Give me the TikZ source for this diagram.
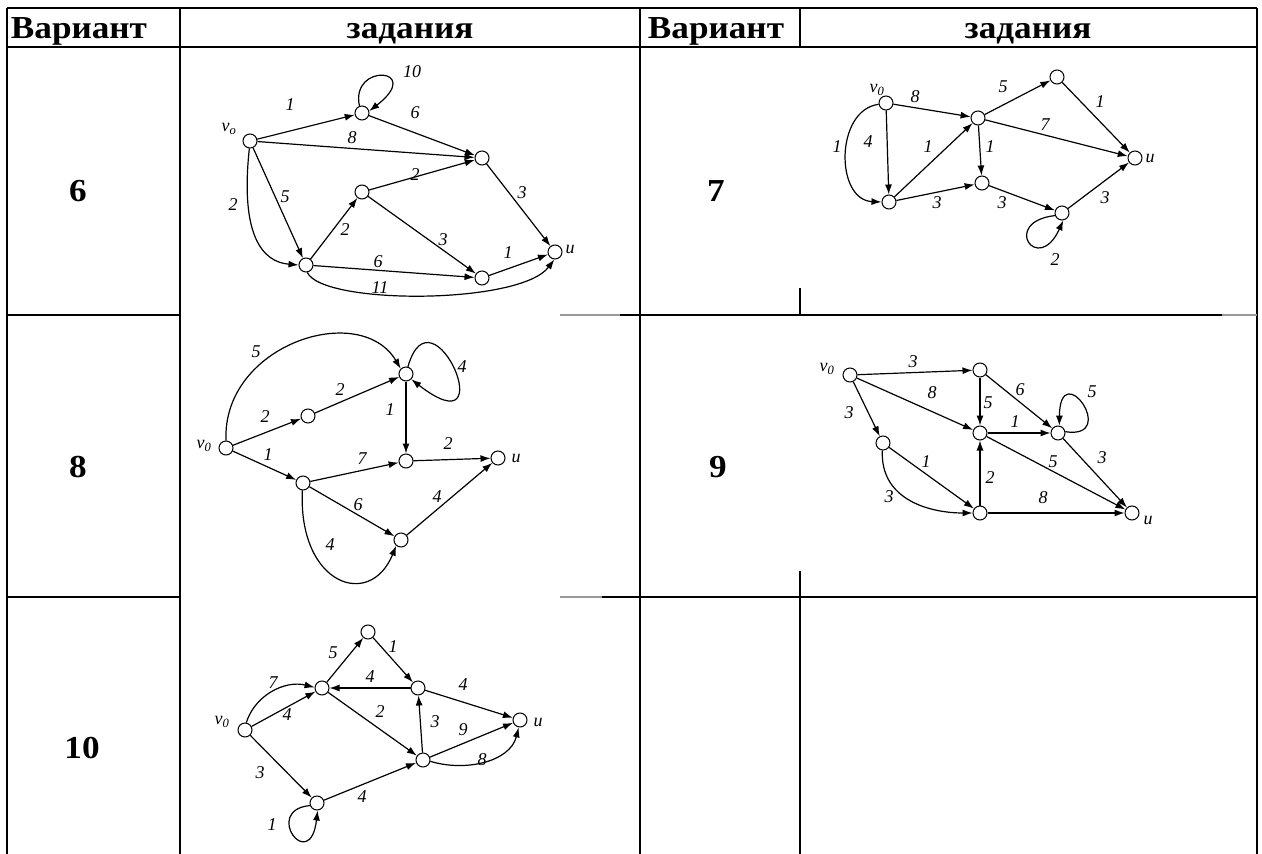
\documentclass[tikz,border=0pt]{standalone}
\usepackage{fontspec}
\setmainfont{Liberation Serif}
\newfontfamily\hdrfont{Liberation Serif}[FakeStretch=1.1]
\usetikzlibrary{arrows.meta}

\begin{document}
\begin{tikzpicture}[x=1pt,y=-1pt,
    grid/.style={line width=1.4pt},
    gridlt/.style={line width=1.4pt,black!40},
    hdr/.style={font=\hdrfont\fontsize{32}{34}\selectfont\bfseries,anchor=base},
    vert/.style={draw,circle,fill=white,minimum size=14pt,inner sep=0pt,line width=1pt},
    arr/.style={line width=1.2pt,-{Latex[length=10pt,width=7pt]}},
    wt/.style={font=\fontsize{18}{20}\selectfont\itshape,inner sep=1pt}]
  \useasboundingbox[fill=white] (0,0) rectangle (1262,854);
  % table
  \draw[grid] (7,8) -- (1257,8);
  \draw[grid] (7,47) -- (1257,47);
  \draw[grid] (7,8) -- (7,854);
  \draw[grid] (1257,8) -- (1257,854);
  \draw[grid] (180,8) -- (180,854);
  \draw[grid] (640,8) -- (640,854);
  \draw[grid] (800,8) -- (800,47);
  \draw[grid] (800,288) -- (800,315);
  \draw[grid] (800,571) -- (800,854);
  \draw[grid] (7,315) -- (180,315);
  \draw[gridlt] (560,315) -- (620,315);
  \draw[grid] (620,315) -- (1222,315);
  \draw[gridlt] (1222,315) -- (1257,315);
  \draw[grid] (7,597) -- (180,597);
  \draw[gridlt] (560,597) -- (602,597);
  \draw[grid] (602,597) -- (1257,597);
  \node[hdr] (h1) at (79,38) {Вариант};
  \node[hdr] (h2) at (410,38) {задания};
  \node[hdr] (h3) at (716,38) {Вариант};
  \node[hdr] (h4) at (1028,38) {задания};
  \node[hdr] (n6) at (78,201) {6};
  \node[hdr] (n7) at (716,201) {7};
  \node[hdr] (n8) at (78,477) {8};
  \node[hdr] (n9) at (718,477) {9};
  \node[hdr] (n10) at (82,758) {10};

  % variant 6
  \node[vert] (g6v) at (250,141) {};
  \node[vert] (g6a) at (362,113) {};
  \node[vert] (g6b) at (482,158) {};
  \node[vert] (g6c) at (362,192) {};
  \node[vert] (g6d) at (306,265) {};
  \node[vert] (g6e) at (482,278) {};
  \node[vert] (g6u) at (555,252) {};
  \node[wt] (g6vl) at (229,129) {v\textsubscript{o}};
  \node[wt] (g6ul) at (570,249) {u};
  \draw[arr] (g6v) -- (g6a);
  \draw[arr] (g6a.110) .. controls (350,62) and (425,68) .. (g6a.15);
  \draw[arr] (g6a) -- (g6b);
  \draw[arr] (g6v) -- (g6b);
  \draw[arr] (g6c) -- (g6b);
  \draw[arr] (g6b) -- (g6u);
  \draw[arr] (g6v) -- (g6d);
  \draw[arr] (g6v.265) .. controls (240,235) and (262,262) .. (g6d.180);
  \draw[arr] (g6d) -- (g6c);
  \draw[arr] (g6c) -- (g6e);
  \draw[arr] (g6d) -- (g6e);
  \draw[arr] (g6e) -- (g6u);
  \draw[arr] (g6d.280) .. controls (322,305) and (520,305) .. (g6u.265);
  \node[wt] (w6a) at (290,105) {1};
  \node[wt] (w6b) at (412,72) {10};
  \node[wt] (w6c) at (415,113) {6};
  \node[wt] (w6d) at (352,138) {8};
  \node[wt] (w6e) at (415,175) {2};
  \node[wt] (w6f) at (522,193) {3};
  \node[wt] (w6g) at (285,197) {5};
  \node[wt] (w6h) at (233,205) {2};
  \node[wt] (w6i) at (345,230) {2};
  \node[wt] (w6j) at (443,240) {3};
  \node[wt] (w6k) at (378,262) {6};
  \node[wt] (w6l) at (508,253) {1};
  \node[wt] (w6m) at (380,288) {11};

  % variant 7
  \node[vert] (g7v) at (886,103) {};
  \node[vert] (g7a) at (889,202) {};
  \node[vert] (g7b) at (978,118) {};
  \node[vert] (g7c) at (1057,77) {};
  \node[vert] (g7d) at (982,183) {};
  \node[vert] (g7e) at (1062,213) {};
  \node[vert] (g7u) at (1135,158) {};
  \node[wt] (g7vl) at (877,90) {v\textsubscript{0}};
  \node[wt] (g7ul) at (1150,158) {u};
  \draw[arr] (g7v) -- (g7b);
  \draw[arr] (g7v) -- (g7a);
  \draw[arr] (g7v.190) .. controls (835,110) and (835,200) .. (g7a.180);
  \draw[arr] (g7a) -- (g7b);
  \draw[arr] (g7a) -- (g7d);
  \draw[arr] (g7b) -- (g7c);
  \draw[arr] (g7b) -- (g7u);
  \draw[arr] (g7b) -- (g7d);
  \draw[arr] (g7c) -- (g7u);
  \draw[arr] (g7d) -- (g7e);
  \draw[arr] (g7e) -- (g7u);
  \draw[arr] (g7e.200) .. controls (1000,222) and (1038,276) .. (g7e.280);
  \node[wt] (w7a) at (915,97) {8};
  \node[wt] (w7b) at (868,142) {4};
  \node[wt] (w7c) at (837,147) {1};
  \node[wt] (w7d) at (928,147) {1};
  \node[wt] (w7e) at (937,203) {3};
  \node[wt] (w7f) at (1003,87) {5};
  \node[wt] (w7g) at (1045,125) {7};
  \node[wt] (w7h) at (990,147) {1};
  \node[wt] (w7i) at (1100,102) {1};
  \node[wt] (w7j) at (1002,203) {3};
  \node[wt] (w7k) at (1055,260) {2};
  \node[wt] (w7l) at (1105,198) {3};

  % variant 8
  \node[vert] (g8v) at (226,448) {};
  \node[vert] (g8a) at (308,416) {};
  \node[vert] (g8b) at (406,374) {};
  \node[vert] (g8c) at (406,461) {};
  \node[vert] (g8d) at (303,483) {};
  \node[vert] (g8e) at (401,540) {};
  \node[vert] (g8u) at (498,458) {};
  \node[wt] (g8vl) at (204,446) {v\textsubscript{0}};
  \node[wt] (g8ul) at (516,458) {u};
  \draw[arr] (g8v.90) .. controls (222,345) and (360,300) .. (g8b.135);
  \draw[arr] (g8v) -- (g8a);
  \draw[arr] (g8a) -- (g8b);
  \draw[arr] (g8b.75) .. controls (432,282) and (505,452) .. (g8b.-45);
  \draw[arr] (g8b) -- (g8c);
  \draw[arr] (g8v) -- (g8d);
  \draw[arr] (g8d) -- (g8c);
  \draw[arr] (g8c) -- (g8u);
  \draw[arr] (g8d) -- (g8e);
  \draw[arr] (g8d.265) .. controls (298,585) and (370,610) .. (g8e.230);
  \draw[arr] (g8e) -- (g8u);
  \node[wt] (w8a) at (256,352) {5};
  \node[wt] (w8b) at (265,417) {2};
  \node[wt] (w8c) at (340,390) {2};
  \node[wt] (w8d) at (462,367) {4};
  \node[wt] (w8e) at (390,410) {1};
  \node[wt] (w8f) at (268,455) {1};
  \node[wt] (w8g) at (362,459) {7};
  \node[wt] (w8h) at (448,444) {2};
  \node[wt] (w8i) at (358,505) {6};
  \node[wt] (w8j) at (330,545) {4};
  \node[wt] (w8k) at (437,497) {4};

  % variant 9
  \node[vert] (g9v) at (850,375) {};
  \node[vert] (g9a) at (980,370) {};
  \node[vert] (g9b) at (883,443) {};
  \node[vert] (g9c) at (980,433) {};
  \node[vert] (g9d) at (1058,433) {};
  \node[vert] (g9e) at (980,513) {};
  \node[vert] (g9u) at (1132,513) {};
  \node[wt] (g9vl) at (827,369) {v\textsubscript{0}};
  \node[wt] (g9ul) at (1148,520) {u};
  \draw[arr] (g9v) -- (g9a);
  \draw[arr] (g9v) -- (g9c);
  \draw[arr] (g9v) -- (g9b);
  \draw[arr] (g9a) -- (g9c);
  \draw[arr] (g9a) -- (g9d);
  \draw[arr] (g9c) -- (g9d);
  \draw[arr] (g9d.10) .. controls (1120,440) and (1060,355) .. (g9d.80);
  \draw[arr] (g9d) -- (g9u);
  \draw[arr] (g9c) -- (g9u);
  \draw[arr] (g9b) -- (g9e);
  \draw[arr] (g9b.265) .. controls (880,500) and (930,513) .. (g9e.180);
  \draw[arr] (g9e) -- (g9c);
  \draw[arr] (g9e) -- (g9u);
  \node[wt] (w9a) at (913,362) {3};
  \node[wt] (w9b) at (932,393) {8};
  \node[wt] (w9c) at (849,413) {3};
  \node[wt] (w9d) at (988,403) {5};
  \node[wt] (w9e) at (1020,390) {6};
  \node[wt] (w9f) at (1015,422) {1};
  \node[wt] (w9g) at (1092,392) {5};
  \node[wt] (w9h) at (1102,458) {3};
  \node[wt] (w9i) at (1053,462) {5};
  \node[wt] (w9j) at (926,462) {1};
  \node[wt] (w9k) at (889,497) {3};
  \node[wt] (w9l) at (990,478) {2};
  \node[wt] (w9m) at (1043,498) {8};

  % variant 10
  \node[vert] (g10v) at (245,730) {};
  \node[vert] (g10a) at (322,688) {};
  \node[vert] (g10b) at (368,632) {};
  \node[vert] (g10c) at (418,688) {};
  \node[vert] (g10d) at (423,760) {};
  \node[vert] (g10e) at (317,803) {};
  \node[vert] (g10u) at (520,720) {};
  \node[wt] (g10vl) at (222,722) {v\textsubscript{0}};
  \node[wt] (g10ul) at (538,722) {u};
  \draw[arr] (g10v.80) .. controls (255,695) and (285,680) .. (g10a.175);
  \draw[arr] (g10v) -- (g10a);
  \draw[arr] (g10a) -- (g10b);
  \draw[arr] (g10b) -- (g10c);
  \draw[arr] (g10c) -- (g10a);
  \draw[arr] (g10a) -- (g10d);
  \draw[arr] (g10c) -- (g10u);
  \draw[arr] (g10d) -- (g10c);
  \draw[arr] (g10d) -- (g10u);
  \draw[arr] (g10d.-10) .. controls (465,772) and (510,762) .. (g10u.260);
  \draw[arr] (g10v) -- (g10e);
  \draw[arr] (g10e) -- (g10d);
  \draw[arr] (g10e.200) .. controls (262,810) and (310,875) .. (g10e.275);
  \node[wt] (w10a) at (273,683) {7};
  \node[wt] (w10b) at (287,715) {4};
  \node[wt] (w10c) at (333,653) {5};
  \node[wt] (w10d) at (393,647) {1};
  \node[wt] (w10e) at (370,677) {4};
  \node[wt] (w10f) at (380,712) {2};
  \node[wt] (w10g) at (463,685) {4};
  \node[wt] (w10h) at (435,722) {3};
  \node[wt] (w10i) at (463,730) {9};
  \node[wt] (w10j) at (482,760) {8};
  \node[wt] (w10k) at (260,773) {3};
  \node[wt] (w10l) at (362,797) {4};
  \node[wt] (w10m) at (272,825) {1};
\end{tikzpicture}
\end{document}
